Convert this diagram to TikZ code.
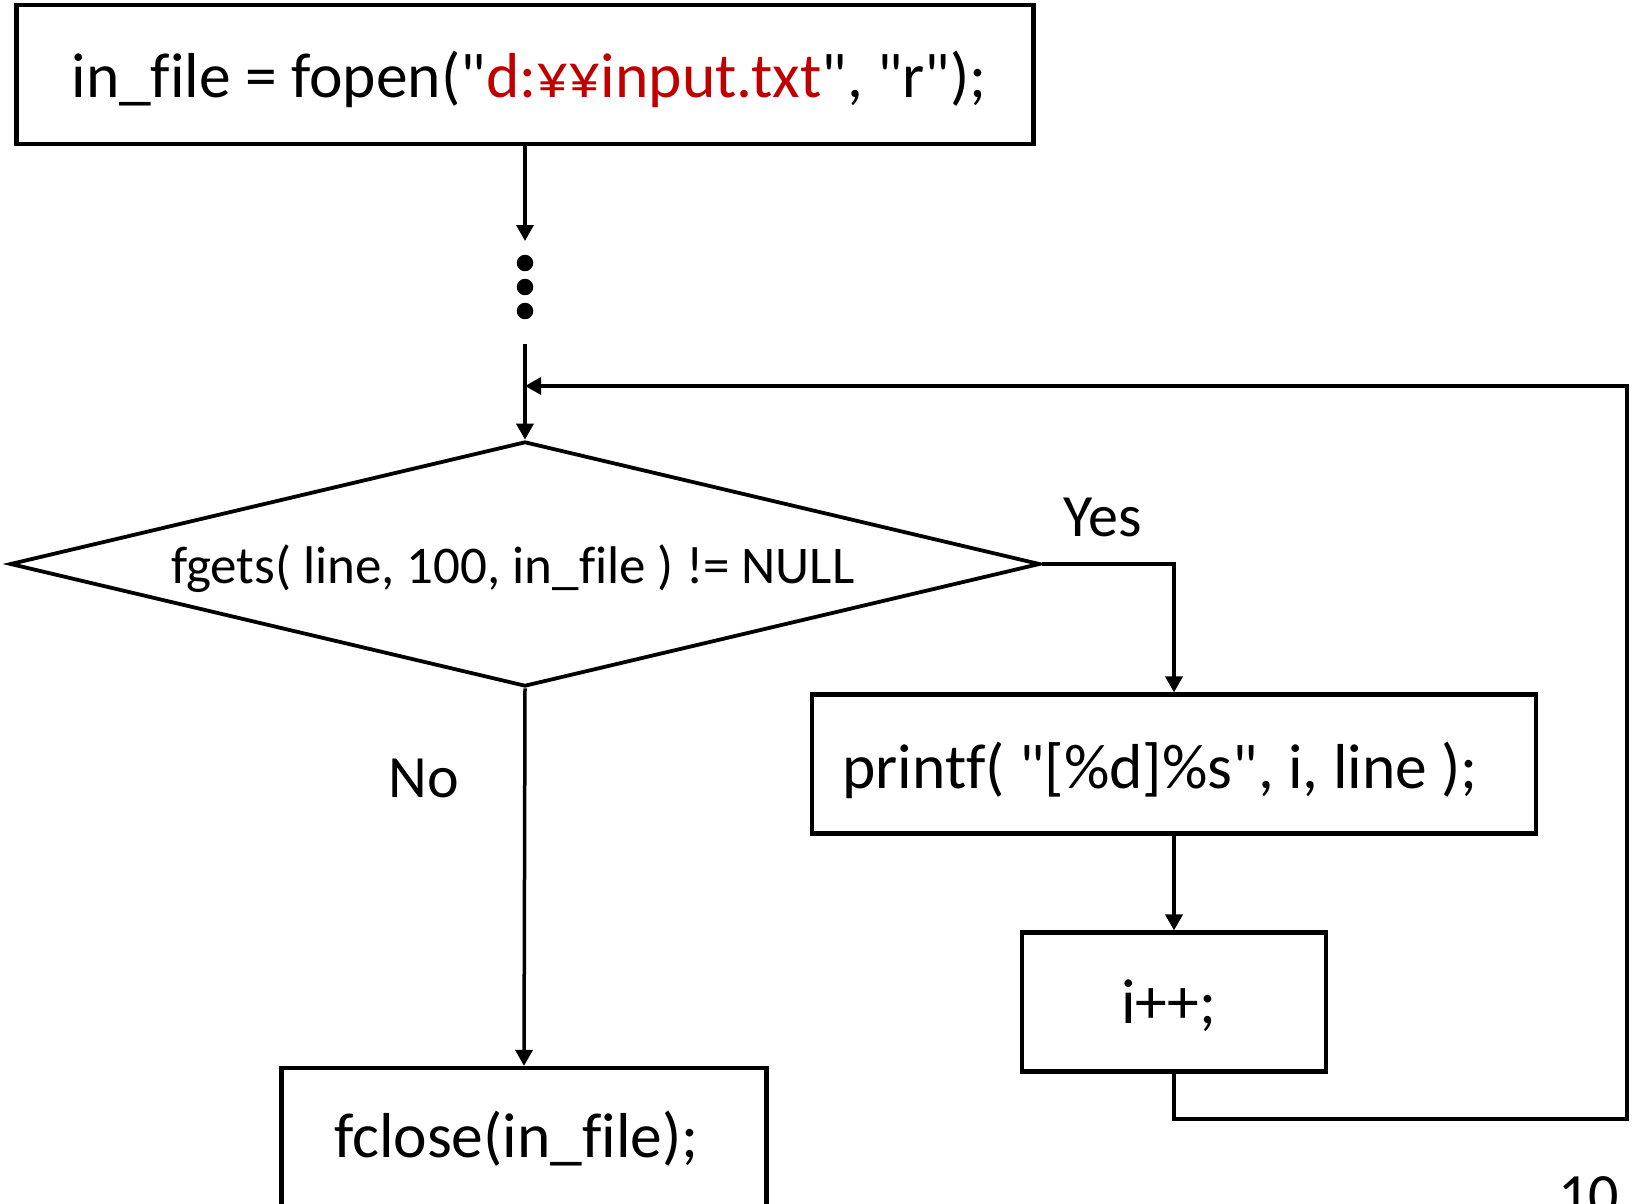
\documentclass[tikz,border=0pt]{standalone}
\usepackage{fontspec}
\newfontfamily\calfont{Carlito}[Ligatures=NoCommon]
\usetikzlibrary{arrows.meta,shapes.geometric}
\definecolor{codered}{RGB}{192,0,0}
\begin{document}
\begin{tikzpicture}[x=1pt,y=-1pt,
  box/.style={draw,rectangle,line width=4.2pt,inner sep=0pt},
  conn/.style={line width=3.5pt,-{Triangle[length=16pt,width=17pt]}},
  bigtxt/.style={inner sep=0pt,anchor=base,font=\calfont\fontsize{63.5}{70}\selectfont},
  midtxt/.style={inner sep=0pt,anchor=base,font=\calfont\fontsize{53}{60}\selectfont},
  lbltxt/.style={inner sep=0pt,anchor=base,font=\calfont\fontsize{60}{66}\selectfont},
  dotnode/.style={circle,fill,inner sep=0pt,minimum size=16.5pt}]
\useasboundingbox (0,0) rectangle (1633,1203);

% boxes
\node[box,minimum width=1017pt,minimum height=138.5pt] (open) at (525,74.5) {};
\node[bigtxt] (topen) at (529,97) {in\_file = fopen("\textcolor{codered}{d:¥¥input.txt}", "r");};

\node[dotnode] (dot1) at (525,263) {};
\node[dotnode] (dot2) at (525,287) {};
\node[dotnode] (dot3) at (525,311) {};
\coordinate (d0) at (525,241);
\coordinate (d1) at (525,344);
\coordinate (m) at (525,386);

\node[draw,diamond,line width=3.8pt,inner sep=0pt,minimum width=1030pt,minimum height=245pt] (dia) at (525,564) {};
\node[midtxt] (tdia) at (513,583) {fgets( line, 100, in\_file ) != NULL};

\node[box,minimum width=724pt,minimum height=139pt] (pr) at (1174,764) {};
\node[bigtxt] (tpr) at (1160,788) {printf( "[\%d]\%s", i, line );};

\node[box,minimum width=304pt,minimum height=139pt] (inc) at (1174,1002) {};
\node[bigtxt] (tinc) at (1169,1023) {i++;};

\node[box,minimum width=485pt,minimum height=170pt] (fc) at (524,1153) {};
\node[bigtxt] (tfc) at (516.5,1157) {fclose(in\_file);};

\node[lbltxt] (yes) at (1103,536.5) {Yes};
\node[lbltxt] (no) at (423.5,797) {No};
\node[lbltxt] (pg) at (1588.5,1215) {10};

\coordinate (lp2) at (1627,1119);

% connectors
\draw[conn] (open.south) -- (d0);
\draw[conn] (d1) -- (dia.north);
\draw[conn] (dia.east) -| (pr.north);
\draw[conn] (pr.south) -- (inc.north);
\draw[conn] (inc.south) |- (lp2) |- (m);
\draw[conn] (dia.south) -- (fc.north);
\end{tikzpicture}
\end{document}
